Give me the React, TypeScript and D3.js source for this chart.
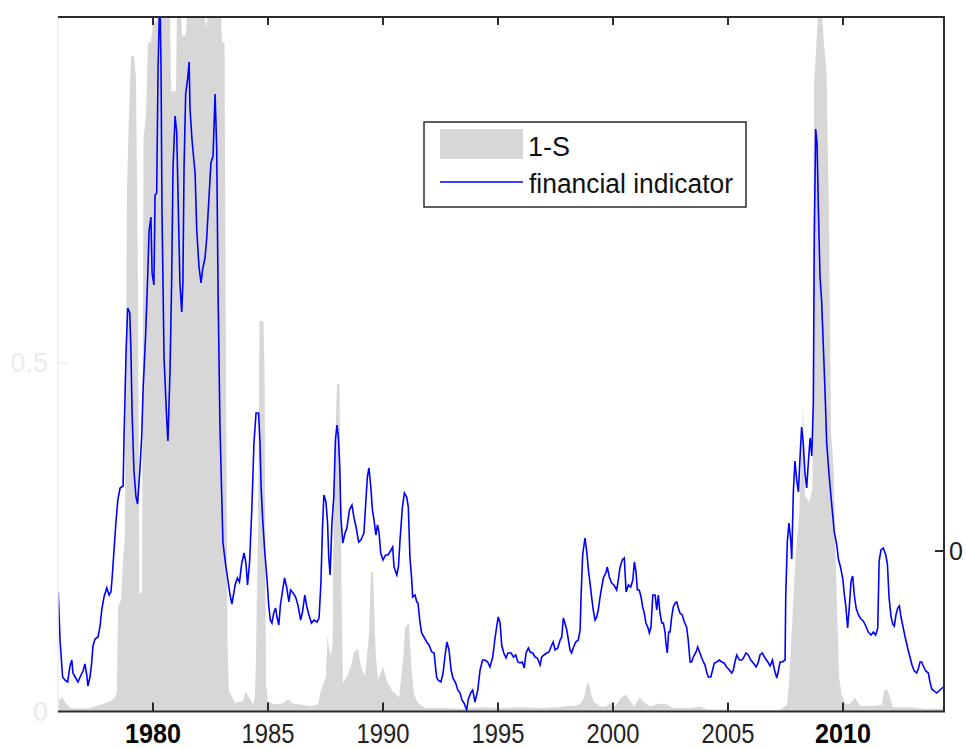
import React from "react";
import * as d3 from "d3";

// ---------- data ----------
const xTickYears = [1980, 1985, 1990, 1995, 2000, 2005, 2010];
const boldTickYears = [1980, 2010];
const leftTicks = [0, 0.5];
const rightTicks = [0];
const legendLabels = ["1-S", "financial indicator"];

// 1-S (left axis, 0..1): [year, value]
const oneMinusS: [number, number][] = [
  [1975.87, 0.015], [1976.04, 0.02], [1976.22, 0.012], [1976.39, 0.005], [1976.83, 0.004],
  [1977.26, 0.005], [1977.57, 0.008], [1977.91, 0.012], [1978.13, 0.015], [1978.35, 0.02],
  [1978.43, 0.03], [1978.48, 0.15], [1978.61, 0.16], [1978.70, 0.22], [1978.78, 0.25],
  [1978.87, 0.75], [1978.96, 0.86], [1979.04, 0.94], [1979.17, 0.94], [1979.26, 0.91],
  [1979.35, 0.60], [1979.41, 0.17], [1979.52, 0.17], [1979.59, 0.82], [1979.70, 0.86],
  [1979.78, 0.96], [1979.91, 0.96], [1980.00, 0.99], [1980.17, 0.99], [1980.22, 1.0],
  [1980.74, 1.0], [1980.78, 0.89], [1981.00, 0.89], [1981.04, 1.0], [1981.22, 1.0],
  [1981.26, 0.97], [1981.43, 0.97], [1981.48, 1.0], [1982.26, 1.0], [1982.30, 0.98],
  [1982.39, 1.0], [1982.96, 1.0], [1983.00, 0.96], [1983.11, 0.96], [1983.17, 0.5],
  [1983.24, 0.1], [1983.30, 0.03], [1983.57, 0.012], [1983.91, 0.015], [1984.04, 0.028],
  [1984.17, 0.02], [1984.35, 0.01], [1984.43, 0.02], [1984.48, 0.08], [1984.57, 0.28],
  [1984.63, 0.56], [1984.80, 0.56], [1984.85, 0.49], [1984.91, 0.04], [1985.00, 0.015],
  [1985.30, 0.01], [1985.65, 0.012], [1985.87, 0.018], [1986.04, 0.012], [1986.39, 0.01],
  [1986.83, 0.008], [1987.17, 0.01], [1987.30, 0.03], [1987.52, 0.05], [1987.59, 0.11],
  [1987.65, 0.09], [1987.74, 0.08], [1987.81, 0.10], [1987.87, 0.33], [1988.00, 0.47],
  [1988.11, 0.47], [1988.15, 0.33], [1988.21, 0.14], [1988.26, 0.04], [1988.43, 0.05],
  [1988.61, 0.065], [1988.74, 0.085], [1988.91, 0.09], [1989.04, 0.065], [1989.22, 0.05],
  [1989.39, 0.11], [1989.48, 0.20], [1989.57, 0.20], [1989.61, 0.16], [1989.67, 0.09],
  [1989.78, 0.045], [1990.00, 0.065], [1990.16, 0.045], [1990.39, 0.03], [1990.70, 0.02],
  [1990.89, 0.08], [1990.96, 0.12], [1991.13, 0.127], [1991.22, 0.07], [1991.35, 0.024],
  [1991.52, 0.012], [1991.83, 0.005], [1992.48, 0.005], [1993.35, 0.004], [1994.22, 0.006],
  [1995.09, 0.005], [1995.96, 0.006], [1996.83, 0.005], [1997.70, 0.006], [1998.00, 0.008],
  [1998.35, 0.008], [1998.57, 0.011], [1998.74, 0.02], [1998.87, 0.04], [1998.96, 0.04],
  [1999.04, 0.025], [1999.17, 0.014], [1999.43, 0.007], [1999.70, 0.007], [1999.87, 0.012],
  [2000.09, 0.007], [2000.35, 0.02], [2000.57, 0.024], [2000.74, 0.015], [2000.91, 0.007],
  [2001.17, 0.02], [2001.35, 0.013], [2001.61, 0.007], [2001.96, 0.011], [2002.35, 0.01],
  [2002.61, 0.005], [2003.35, 0.005], [2003.78, 0.007], [2004.09, 0.003], [2005.52, 0.002],
  [2007.26, 0.002], [2007.57, 0.01], [2007.65, 0.04], [2007.78, 0.12], [2007.93, 0.22],
  [2008.09, 0.28], [2008.17, 0.35], [2008.26, 0.44], [2008.35, 0.31], [2008.52, 0.30],
  [2008.67, 0.32], [2008.74, 0.90], [2008.83, 0.95], [2008.91, 1.0], [2009.09, 1.0],
  [2009.17, 0.96], [2009.28, 0.92], [2009.39, 0.71], [2009.48, 0.40], [2009.59, 0.35],
  [2009.72, 0.17], [2009.83, 0.05], [2009.93, 0.026], [2010.09, 0.011], [2010.30, 0.011],
  [2010.52, 0.02], [2010.74, 0.008], [2011.39, 0.008], [2011.70, 0.01], [2011.78, 0.03],
  [2011.91, 0.032], [2012.04, 0.02], [2012.17, 0.006], [2012.91, 0.006], [2013.57, 0.004],
  [2014.39, 0.004],
];

// financial indicator (right axis): [year, value]
const financialIndicator: [number, number][] = [
  [1975.88, -0.41], [1975.96, -0.90], [1976.07, -1.26], [1976.17, -1.29], [1976.29, -1.31],
  [1976.39, -1.15], [1976.47, -1.09], [1976.52, -1.22], [1976.64, -1.27], [1976.74, -1.31],
  [1976.87, -1.24], [1976.96, -1.20], [1977.04, -1.13], [1977.12, -1.24], [1977.17, -1.35],
  [1977.26, -1.26], [1977.33, -1.13], [1977.39, -0.95], [1977.48, -0.88], [1977.61, -0.86],
  [1977.70, -0.75], [1977.77, -0.59], [1977.87, -0.46], [1977.99, -0.37], [1978.09, -0.44],
  [1978.17, -0.41], [1978.22, -0.28], [1978.30, -0.01], [1978.38, 0.26], [1978.47, 0.51],
  [1978.57, 0.63], [1978.70, 0.65], [1978.74, 1.12], [1978.83, 2.00], [1978.90, 2.43],
  [1978.99, 2.38], [1979.04, 2.02], [1979.09, 1.39], [1979.17, 0.81], [1979.26, 0.54],
  [1979.33, 0.47], [1979.43, 0.81], [1979.51, 1.15], [1979.57, 1.62], [1979.68, 2.16],
  [1979.77, 2.75], [1979.83, 3.20], [1979.91, 3.34], [1979.96, 2.78], [1980.04, 2.66],
  [1980.09, 3.56], [1980.16, 3.58], [1980.22, 4.82], [1980.30, 5.60], [1980.35, 4.82],
  [1980.39, 3.42], [1980.48, 1.93], [1980.60, 1.30], [1980.65, 1.10], [1980.74, 1.80],
  [1980.81, 2.68], [1980.87, 3.83], [1980.96, 4.35], [1981.03, 4.19], [1981.09, 3.56],
  [1981.17, 2.68], [1981.25, 2.39], [1981.30, 2.68], [1981.35, 3.83], [1981.42, 4.57],
  [1981.51, 4.73], [1981.57, 4.89], [1981.61, 4.42], [1981.70, 4.10], [1981.83, 3.78],
  [1981.90, 3.22], [1982.00, 2.84], [1982.09, 2.68], [1982.16, 2.82], [1982.26, 2.93],
  [1982.33, 3.11], [1982.43, 3.52], [1982.52, 3.88], [1982.61, 3.95], [1982.70, 4.57],
  [1982.77, 4.02], [1982.83, 2.58], [1982.91, 1.26], [1982.99, 0.54], [1983.04, 0.09],
  [1983.16, -0.14], [1983.25, -0.28], [1983.35, -0.44], [1983.43, -0.53], [1983.52, -0.41],
  [1983.57, -0.34], [1983.67, -0.27], [1983.76, -0.31], [1983.86, -0.12], [1983.96, -0.02],
  [1984.04, -0.12], [1984.11, -0.34], [1984.20, -0.11], [1984.30, 0.44], [1984.39, 1.08],
  [1984.48, 1.38], [1984.59, 1.38], [1984.65, 1.09], [1984.70, 0.64], [1984.77, 0.31],
  [1984.86, -0.01], [1984.96, -0.29], [1985.03, -0.54], [1985.10, -0.69], [1985.17, -0.72],
  [1985.25, -0.62], [1985.33, -0.57], [1985.39, -0.66], [1985.47, -0.74], [1985.54, -0.54],
  [1985.65, -0.37], [1985.72, -0.27], [1985.81, -0.36], [1985.91, -0.51], [1985.98, -0.39],
  [1986.09, -0.42], [1986.20, -0.46], [1986.30, -0.54], [1986.42, -0.69], [1986.50, -0.61],
  [1986.60, -0.44], [1986.69, -0.56], [1986.78, -0.64], [1986.89, -0.72], [1987.00, -0.69],
  [1987.13, -0.71], [1987.22, -0.67], [1987.30, -0.32], [1987.37, 0.24], [1987.43, 0.56],
  [1987.52, 0.49], [1987.59, 0.28], [1987.64, -0.06], [1987.70, -0.24], [1987.78, 0.28],
  [1987.86, 0.54], [1987.93, 1.11], [1988.00, 1.26], [1988.06, 1.14], [1988.12, 0.84],
  [1988.17, 0.34], [1988.25, 0.08], [1988.35, 0.18], [1988.43, 0.23], [1988.54, 0.41],
  [1988.65, 0.46], [1988.74, 0.33], [1988.83, 0.24], [1988.94, 0.09], [1989.04, 0.11],
  [1989.17, 0.18], [1989.25, 0.48], [1989.32, 0.74], [1989.39, 0.83], [1989.47, 0.64],
  [1989.54, 0.41], [1989.61, 0.31], [1989.69, 0.16], [1989.76, 0.26], [1989.83, 0.18],
  [1989.90, -0.02], [1990.00, -0.09], [1990.11, -0.04], [1990.22, -0.04], [1990.35, 0.01],
  [1990.42, 0.04], [1990.48, -0.16], [1990.60, -0.24], [1990.67, -0.16], [1990.74, 0.11],
  [1990.84, 0.43], [1990.93, 0.58], [1991.03, 0.54], [1991.10, 0.44], [1991.17, -0.06],
  [1991.25, -0.29], [1991.29, -0.46], [1991.39, -0.44], [1991.47, -0.51], [1991.52, -0.52],
  [1991.61, -0.72], [1991.68, -0.82], [1991.78, -0.86], [1991.90, -0.91], [1992.00, -0.94],
  [1992.12, -1.01], [1992.22, -1.02], [1992.33, -1.26], [1992.39, -1.29], [1992.52, -1.31],
  [1992.61, -1.22], [1992.70, -1.04], [1992.78, -0.91], [1992.87, -0.99], [1992.96, -1.19],
  [1993.04, -1.27], [1993.16, -1.32], [1993.25, -1.39], [1993.35, -1.42], [1993.43, -1.49],
  [1993.52, -1.52], [1993.64, -1.59], [1993.70, -1.49], [1993.81, -1.42], [1993.90, -1.39],
  [1994.00, -1.51], [1994.12, -1.39], [1994.22, -1.19], [1994.33, -1.09], [1994.43, -1.09],
  [1994.55, -1.11], [1994.65, -1.16], [1994.77, -1.06], [1994.86, -0.89], [1994.94, -0.76],
  [1995.01, -0.66], [1995.09, -0.72], [1995.16, -0.94], [1995.25, -1.02], [1995.35, -1.07],
  [1995.43, -1.02], [1995.57, -1.02], [1995.67, -1.06], [1995.77, -1.04], [1995.86, -1.11],
  [1995.96, -1.12], [1996.06, -1.11], [1996.14, -1.17], [1996.22, -1.02], [1996.32, -0.97],
  [1996.40, -1.01], [1996.51, -1.02], [1996.61, -1.06], [1996.71, -1.07], [1996.83, -1.14],
  [1996.90, -1.06], [1997.00, -1.04], [1997.12, -1.02], [1997.22, -1.01], [1997.30, -0.96],
  [1997.40, -0.91], [1997.48, -0.99], [1997.60, -0.97], [1997.70, -0.89], [1997.77, -0.86],
  [1997.84, -0.67], [1997.91, -0.72], [1997.99, -0.79], [1998.06, -0.89], [1998.13, -0.99],
  [1998.20, -1.02], [1998.27, -0.97], [1998.38, -0.91], [1998.49, -0.89], [1998.57, -0.79],
  [1998.61, -0.46], [1998.68, -0.04], [1998.78, 0.13], [1998.86, -0.01], [1998.93, -0.19],
  [1999.00, -0.32], [1999.07, -0.46], [1999.14, -0.59], [1999.22, -0.69], [1999.29, -0.66],
  [1999.36, -0.59], [1999.43, -0.47], [1999.51, -0.36], [1999.58, -0.27], [1999.70, -0.21],
  [1999.75, -0.16], [1999.84, -0.26], [1999.94, -0.32], [2000.04, -0.34], [2000.16, -0.39],
  [2000.23, -0.29], [2000.30, -0.17], [2000.40, -0.09], [2000.49, -0.07], [2000.57, -0.41],
  [2000.67, -0.34], [2000.77, -0.36], [2000.86, -0.29], [2000.93, -0.11], [2001.00, -0.21],
  [2001.06, -0.39], [2001.14, -0.39], [2001.22, -0.46], [2001.29, -0.56], [2001.36, -0.62],
  [2001.43, -0.72], [2001.51, -0.76], [2001.58, -0.82], [2001.65, -0.76], [2001.73, -0.44],
  [2001.83, -0.44], [2001.90, -0.59], [2001.97, -0.44], [2002.04, -0.62], [2002.12, -0.72],
  [2002.19, -0.72], [2002.26, -0.81], [2002.30, -0.92], [2002.36, -1.02], [2002.42, -0.81],
  [2002.48, -0.81], [2002.55, -0.66], [2002.62, -0.56], [2002.70, -0.52], [2002.77, -0.51],
  [2002.84, -0.57], [2002.91, -0.62], [2003.01, -0.64], [2003.10, -0.71], [2003.20, -0.76],
  [2003.27, -0.89], [2003.35, -1.11], [2003.42, -1.11], [2003.49, -1.06], [2003.61, -1.01],
  [2003.68, -0.96], [2003.78, -1.02], [2003.86, -1.07], [2003.93, -1.11], [2004.00, -1.14],
  [2004.07, -1.21], [2004.14, -1.26], [2004.25, -1.26], [2004.33, -1.19], [2004.40, -1.12],
  [2004.51, -1.11], [2004.62, -1.09], [2004.73, -1.11], [2004.83, -1.12], [2004.94, -1.16],
  [2005.06, -1.19], [2005.16, -1.22], [2005.23, -1.19], [2005.30, -1.11], [2005.38, -1.04],
  [2005.49, -1.09], [2005.60, -1.09], [2005.67, -1.07], [2005.78, -1.02], [2005.88, -1.04],
  [2005.99, -1.09], [2006.10, -1.12], [2006.22, -1.16], [2006.32, -1.11], [2006.39, -1.04],
  [2006.49, -1.02], [2006.61, -1.07], [2006.73, -1.11], [2006.83, -1.15], [2006.93, -1.09],
  [2007.01, -1.18], [2007.12, -1.27], [2007.19, -1.20], [2007.26, -1.11], [2007.36, -1.11],
  [2007.48, -1.09], [2007.51, -0.44], [2007.58, 0.10], [2007.65, 0.28], [2007.73, 0.10],
  [2007.77, -0.08], [2007.84, 0.59], [2007.91, 0.90], [2007.99, 0.70], [2008.06, 0.59],
  [2008.13, 0.93], [2008.20, 1.24], [2008.27, 1.08], [2008.35, 0.77], [2008.42, 0.63],
  [2008.49, 0.88], [2008.57, 1.13], [2008.64, 0.95], [2008.71, 1.49], [2008.75, 3.12],
  [2008.81, 4.22], [2008.87, 4.08], [2008.93, 3.41], [2009.00, 2.74], [2009.07, 2.50],
  [2009.14, 2.07], [2009.22, 1.58], [2009.29, 1.08], [2009.39, 0.77], [2009.51, 0.46],
  [2009.62, 0.19], [2009.73, 0.06], [2009.80, -0.08], [2009.90, -0.17], [2009.99, -0.28],
  [2010.06, -0.44], [2010.13, -0.57], [2010.20, -0.77], [2010.27, -0.57], [2010.35, -0.30],
  [2010.42, -0.25], [2010.49, -0.44], [2010.57, -0.57], [2010.67, -0.64], [2010.78, -0.68],
  [2010.88, -0.70], [2010.99, -0.75], [2011.10, -0.81], [2011.22, -0.84], [2011.32, -0.81],
  [2011.42, -0.84], [2011.51, -0.77], [2011.57, -0.10], [2011.65, 0.01], [2011.75, 0.03],
  [2011.86, -0.04], [2011.93, -0.13], [2012.00, -0.46], [2012.09, -0.66], [2012.16, -0.73],
  [2012.23, -0.75], [2012.30, -0.64], [2012.38, -0.57], [2012.45, -0.55], [2012.52, -0.66],
  [2012.60, -0.75], [2012.70, -0.86], [2012.81, -0.97], [2012.91, -1.06], [2013.01, -1.15],
  [2013.10, -1.20], [2013.20, -1.22], [2013.27, -1.18], [2013.35, -1.11], [2013.42, -1.11],
  [2013.49, -1.15], [2013.60, -1.20], [2013.71, -1.22], [2013.78, -1.31], [2013.86, -1.38],
  [2013.97, -1.40], [2014.07, -1.42], [2014.17, -1.40], [2014.26, -1.38], [2014.36, -1.36],
];

// ---------- layout ----------
const W = 966;
const H = 749;
const L = 58;
const R = 944;
const T = 17;
const B = 711.5;

const FONT = "'Liberation Sans', Arial, Helvetica, sans-serif";
const AXIS = "#2b2b2b";
const FAINT = "#ececec";
const GRAY = "#d7d7d7";
const BLUE = "#0000ff";

export default function App() {
  const x = d3.scaleLinear().domain([1975.87, 2014.39]).range([L, R]);
  const yL = d3.scaleLinear().domain([0, 1]).range([B, 14.5]);
  const yR = d3.scaleLinear().domain([-1.6, 5.34]).range([711, T]);

  const area = d3
    .area<[number, number]>()
    .x((d) => x(d[0]))
    .y0(yL(0))
    .y1((d) => yL(d[1]));
  const line = d3
    .line<[number, number]>()
    .x((d) => x(d[0]))
    .y((d) => yR(d[1]));

  return (
    <svg
      width={W}
      height={H}
      viewBox={`0 0 ${W} ${H}`}
      style={{ position: "absolute", left: 0, top: 0, background: "#fff" }}
      fontFamily={FONT}
    >
      <rect x={0} y={0} width={W} height={H} fill="#fff" />
      <defs>
        <clipPath id="plot">
          <rect x={L} y={T} width={R - L} height={B - T} />
        </clipPath>
      </defs>

      <g clipPath="url(#plot)">
        <path d={area(oneMinusS) ?? ""} fill={GRAY} stroke="none" />
        <path d={line(financialIndicator) ?? ""} fill="none" stroke={BLUE} strokeWidth={1.6} strokeLinejoin="miter" />
      </g>

      {/* left axis (faint) */}
      <line x1={L} x2={L} y1={T} y2={B} stroke={FAINT} strokeWidth={1.5} />
      {leftTicks.map((t) => (
        <g key={`l${t}`}>
          <line x1={L} x2={L + 9} y1={yL(t)} y2={yL(t)} stroke={FAINT} strokeWidth={1.5} />
          <text x={L - 10} y={yL(t) + 9} fontSize={27} fill={FAINT} textAnchor="end">
            {t}
          </text>
        </g>
      ))}

      {/* top and bottom frame */}
      <line x1={L} x2={R + 1} y1={T} y2={T} stroke={AXIS} strokeWidth={2} />
      <line x1={L} x2={R + 1} y1={B} y2={B} stroke={AXIS} strokeWidth={2} />
      {xTickYears.map((yr) => (
        <g key={yr}>
          <line x1={x(yr)} x2={x(yr)} y1={B} y2={B - 9} stroke={AXIS} strokeWidth={2} />
          <line x1={x(yr)} x2={x(yr)} y1={T} y2={T + 8} stroke={AXIS} strokeWidth={2} />
          <text
            x={x(yr)}
            y={743}
            fontSize={27}
            textAnchor="middle"
            fill={boldTickYears.includes(yr) ? "#000" : "#222"}
            fontWeight={boldTickYears.includes(yr) ? "bold" : "normal"}
            textLength={boldTickYears.includes(yr) ? 56 : 53}
            lengthAdjust="spacingAndGlyphs"
          >
            {yr}
          </text>
        </g>
      ))}

      {/* right axis */}
      <line x1={R} x2={R} y1={T} y2={B} stroke={AXIS} strokeWidth={2} />
      {rightTicks.map((t) => (
        <g key={`r${t}`}>
          <line x1={R - 9} x2={R} y1={yR(t)} y2={yR(t)} stroke={AXIS} strokeWidth={2} />
          <text x={R + 5} y={yR(t) + 9} fontSize={25} fill="#222">
            {t}
          </text>
        </g>
      ))}

      {/* legend */}
      <g>
        <rect x={424} y={122} width={322} height={85} fill="#fff" stroke={AXIS} strokeWidth={1.5} />
        <rect x={440} y={129} width={83} height={30} fill={GRAY} />
        <text x={528} y={156} fontSize={27} fill="#111">
          {legendLabels[0]}
        </text>
        <line x1={440} x2={523} y1={182} y2={182} stroke={BLUE} strokeWidth={1.4} />
        <text x={529} y={193} fontSize={27} fill="#111" textLength={204} lengthAdjust="spacingAndGlyphs">
          {legendLabels[1]}
        </text>
      </g>
    </svg>
  );
}
